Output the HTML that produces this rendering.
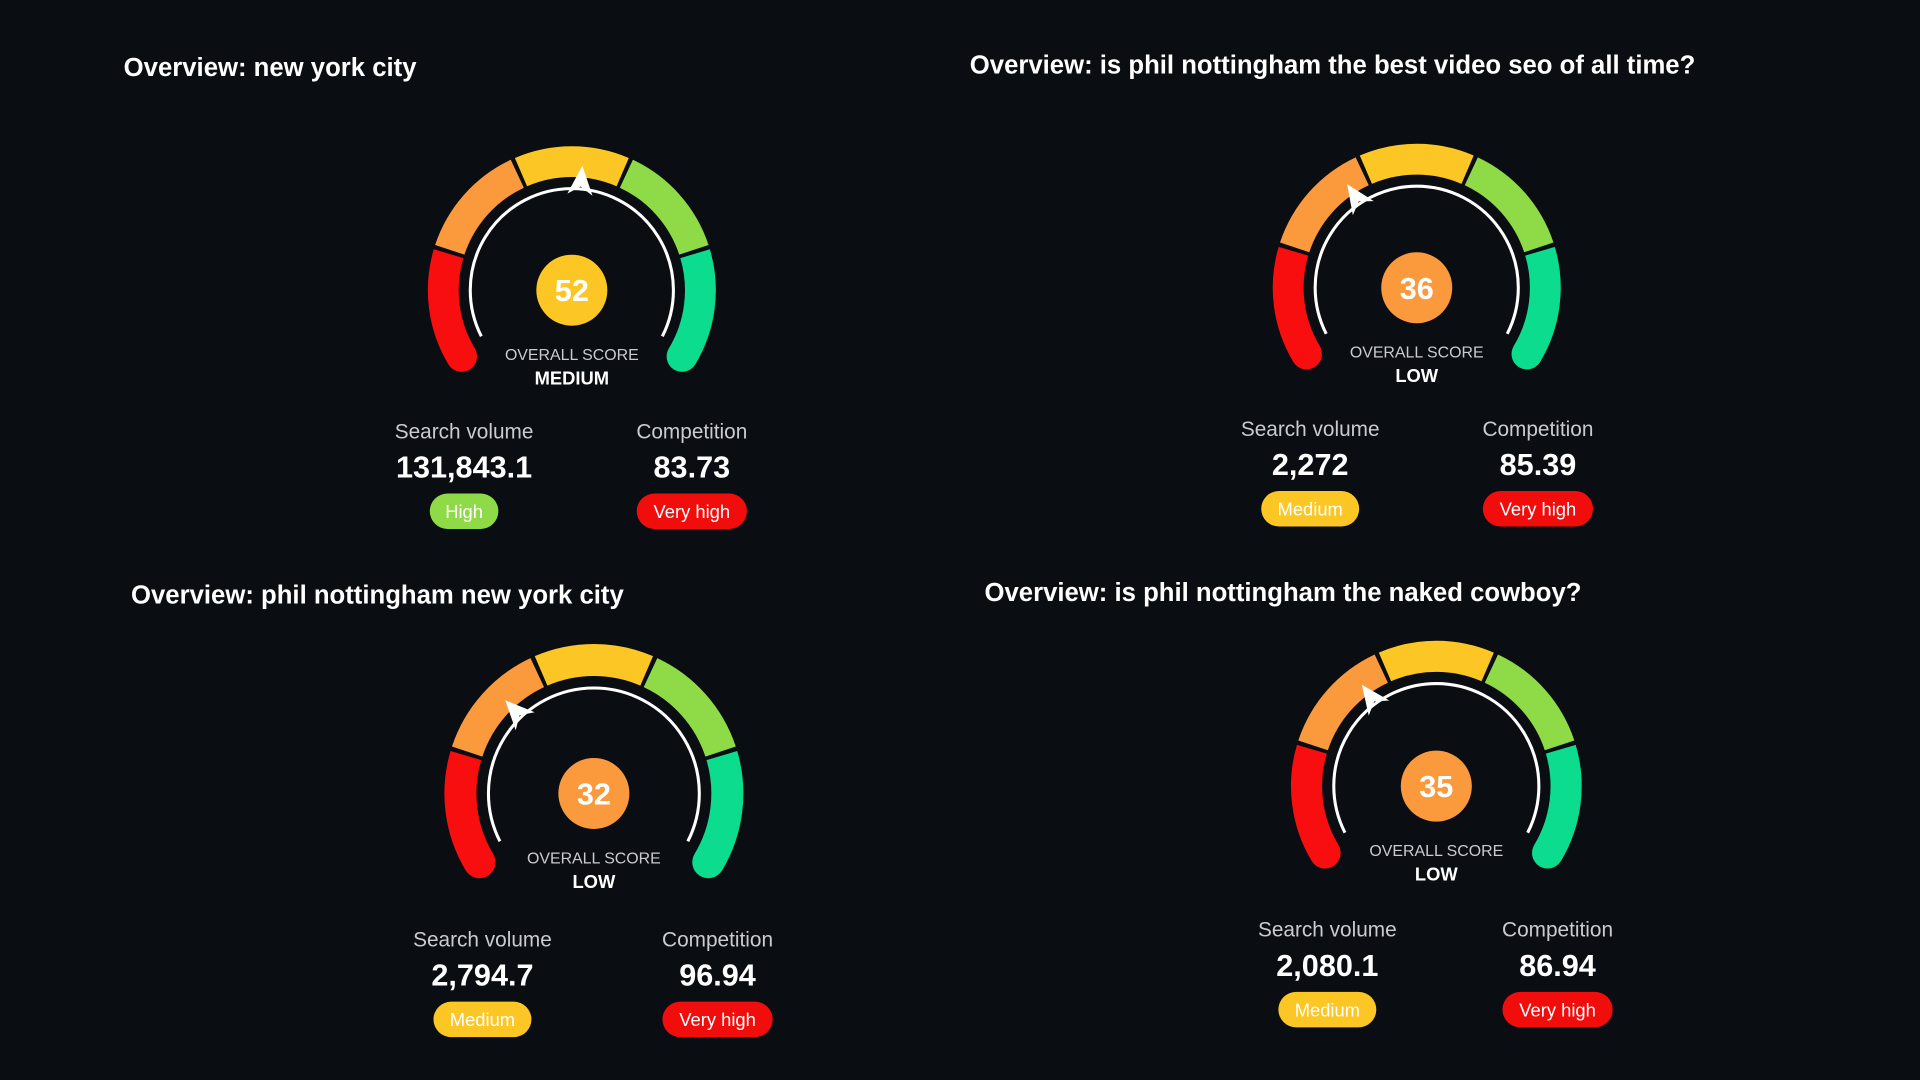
<!DOCTYPE html>
<html><head><meta charset="utf-8">
<style>
html,body{margin:0;padding:0;background:#0a0d12;width:1920px;height:1080px;overflow:hidden}
svg{display:block}
text{font-family:"Liberation Sans",sans-serif}
</style></head>
<body>
<svg id="chart" width="1920" height="1080" viewBox="0 0 1568 882" xmlns="http://www.w3.org/2000/svg">
<rect x="0" y="0" width="1568" height="882" fill="#0a0d12"/>
</svg>
<script>
const titles = ["Overview: new york city","Overview: is phil nottingham the best video seo of all time?","Overview: phil nottingham new york city","Overview: is phil nottingham the naked cowboy?"];
const scores = [52, 36, 32, 35];
const levels = ["MEDIUM","LOW","LOW","LOW"];
const volumes = ["131,843.1","2,272","2,794.7","2,080.1"];
const volumeLevels = ["High","Medium","Medium","Medium"];
const competitions = ["83.73","85.39","96.94","86.94"];
const competitionLevels = ["Very high","Very high","Very high","Very high"];

const layout = [
  {tx:101,ty:62,cx:467,cy:237,r:105,sx1:379,sx2:565,sy:352},
  {tx:792,ty:60,cx:1157,cy:235,r:105,sx1:1070,sx2:1256,sy:350},
  {tx:107,ty:493,cx:485,cy:648,r:109,sx1:394,sx2:586,sy:767},
  {tx:804,ty:491,cx:1173,cy:642,r:106,sx1:1084,sx2:1272,sy:759}
];
const segColors=["#f80e0e","#fb993d","#fcc624","#8edb47","#0cdc8d"];
const pillColors={"High":"#8edb47","Medium":"#fcc624","Very high":"#f20d0d","Low":"#0cdc8d"};
const pillWidths={"High":56,"Medium":80,"Very high":90,"Low":52};
const NS="http://www.w3.org/2000/svg";
const svg=document.getElementById('chart');
const A0=-121,A1=121;
function angOf(v){return A0+(A1-A0)*v/100;}
function pt(cx,cy,r,a){const t=a*Math.PI/180;return [cx+r*Math.sin(t),cy-r*Math.cos(t)];}
function arc(cx,cy,r,a,b){const p=pt(cx,cy,r,a),q=pt(cx,cy,r,b);return `M${p[0]},${p[1]} A${r},${r} 0 ${(b-a)>180?1:0} 1 ${q[0]},${q[1]}`;}
function mk(tag,attrs,parent){const e=document.createElementNS(NS,tag);for(const k in attrs)e.setAttribute(k,attrs[k]);(parent||svg).appendChild(e);return e;}
function txt(x,y,s,size,fill,weight,parent){const t=mk('text',{x:x,y:y,'font-size':size,fill:fill,'font-weight':weight||'normal','text-anchor':'middle'},parent);t.textContent=s;return t;}
function colorFor(v){return segColors[Math.min(4,Math.floor(v/20))];}

layout.forEach((L,i)=>{
  const g=mk('g',{});
  
  
  const tt=mk('text',{x:L.tx,y:L.ty,'font-size':21,fill:'#ffffff','font-weight':'bold'},g);
  tt.textContent=titles[i];
  
  
  const r=L.r, sw=r*0.24, step=(A1-A0)/5, gap=0.9;
  for(let s=0;s<5;s++){
    const a=A0+s*step+(s?gap:0), b=A0+(s+1)*step-(s<4?gap:0);
    const p=mk('path',{d:arc(L.cx,L.cy,r,a,b),stroke:segColors[s],'stroke-width':sw,fill:'none'},g);
    
    
  }
  const e0=pt(L.cx,L.cy,r,A0), e1=pt(L.cx,L.cy,r,A1);
  mk('circle',{cx:e0[0],cy:e0[1],r:sw/2,fill:segColors[0]},g);
  mk('circle',{cx:e1[0],cy:e1[1],r:sw/2,fill:segColors[4]},g);
  const ri=r*0.79;
  const wa=mk('path',{d:arc(L.cx,L.cy,ri,A0+4,A1-4),stroke:'#ffffff','stroke-width':2.5,fill:'none'},g);
  
  
  const a=angOf(scores[i]);
  const tip=pt(L.cx,L.cy,ri+19,a), bl=pt(L.cx,L.cy,ri-4,a-7.5), br=pt(L.cx,L.cy,ri-4,a+7.5), mid=pt(L.cx,L.cy,ri+2,a);
  const ptr=mk('path',{d:`M${tip[0]},${tip[1]} L${br[0]},${br[1]} L${mid[0]},${mid[1]} L${bl[0]},${bl[1]} Z`,fill:'#ffffff'},g);
  
  
  const c=mk('circle',{cx:L.cx,cy:L.cy,r:29,fill:colorFor(scores[i])},g);
  
  
  const sc=txt(L.cx,L.cy+9,String(scores[i]),25,'#ffffff','bold',g);
  
  
  const ol=txt(L.cx,L.cy+57,'OVERALL SCORE',13,'#c9cbd0','normal',g);
  
  
  const lv=txt(L.cx,L.cy+77,levels[i],15,'#ffffff','bold',g);
  
  
  [[L.sx1,'Search volume',volumes[i],volumeLevels[i],'search-volume'],[L.sx2,'Competition',competitions[i],competitionLevels[i],'competition']].forEach(d=>{
    const lb=txt(d[0],L.sy+6,d[1],17,'#c9cbd0','normal',g);
    
    
    const vv=txt(d[0],L.sy+38,d[2],25,'#ffffff','bold',g);
    
    
    const w=pillWidths[d[3]]||80;
    const pr=mk('rect',{x:d[0]-w/2,y:L.sy+51,width:w,height:29,rx:14.5,fill:pillColors[d[3]]||'#fcc624'},g);
    
    
    const pt2=txt(d[0],L.sy+71,d[3],15,'#ffffff','normal',g);
    
    
  });
});
</script>
</body></html>
